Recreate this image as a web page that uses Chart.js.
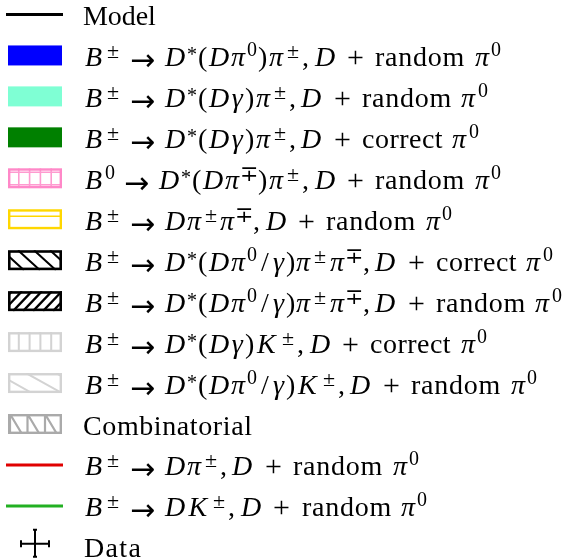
<!DOCTYPE html>
<html>
<head>
<meta charset="utf-8">
<script src="https://cdn.jsdelivr.net/npm/chart.js@4.4.0/dist/chart.umd.min.js"></script>
<style>
  html, body { margin: 0; padding: 0; background: #fff; }
  canvas { display: block; }
</style>
</head>
<body>
<canvas id="legenda" width="565" height="560"></canvas>
<script>
// Entradas da legenda ($...$ = modo matemático, ^{..} = expoente)
const legendLabels = [
    'Model',
    '$B^{±}→D^{*}(Dπ^{0})π^{±},D$ + random $π^{0}$',
    '$B^{±}→D^{*}(Dγ)π^{±},D$ + random $π^{0}$',
    '$B^{±}→D^{*}(Dγ)π^{±},D$ + correct $π^{0}$',
    '$B^{0}→D^{*}(Dπ^{∓})π^{±},D$ + random $π^{0}$',
    '$B^{±}→Dπ^{±}π^{∓},D$ + random $π^{0}$',
    '$B^{±}→D^{*}(Dπ^{0}/γ)π^{±}π^{∓},D$ + correct $π^{0}$',
    '$B^{±}→D^{*}(Dπ^{0}/γ)π^{±}π^{∓},D$ + random $π^{0}$',
    '$B^{±}→D^{*}(Dγ)K^{±},D$ + correct $π^{0}$',
    '$B^{±}→D^{*}(Dπ^{0}/γ)K^{±},D$ + random $π^{0}$',
    'Combinatorial',
    '$B^{±}→Dπ^{±},D$ + random $π^{0}$',
    '$B^{±}→DK^{±},D$ + random $π^{0}$',
    'Data'
];

// estilo de cada entrada (tipo de marca e cor)
const estilos = [
    { kind: 'line',    color: '#000000' },
    { kind: 'box',     color: '#0000ff' },
    { kind: 'box',     color: '#7fffd4' },
    { kind: 'box',     color: '#008000' },
    { kind: 'grid',    color: '#ff88c8' },
    { kind: 'hlines',  color: '#ffd700' },
    { kind: 'back',    color: '#000000' },
    { kind: 'fwd',     color: '#000000' },
    { kind: 'vlines',  color: '#d3d3d3' },
    { kind: 'shallow', color: '#d3d3d3' },
    { kind: 'comb',    color: '#aaaaaa' },
    { kind: 'line',    color: '#e00000' },
    { kind: 'line',    color: '#22b022' },
    { kind: 'data',    color: '#000000' }
];

const FONTE = '"Liberation Serif", "DejaVu Serif", serif';
const EM = 27;      // avanço (estilo Computer Modern)
const GLIFO = 28;   // tamanho do glifo desenhado
const GLIFO_SUP = 20;

// larguras aproximadas do Computer Modern (em)
const largRoman = {
    'M': .917, 'o': .5, 'd': .556, 'e': .444, 'l': .278, 'r': .392, 'a': .5, 'n': .556,
    'm': .833, 'c': .444, 't': .389, 'C': .722, 'b': .556, 'i': .278, 'D': .764,
    ' ': .333, '+': .778, '(': .389, ')': .389, '/': .5, ',': .278, '0': .5, '→': 1.0
};
const largItal = { 'B': .759, 'D': .828, 'K': .849, 'π': .573, 'γ': .518 };
const corrItal = { 'B': .05, 'D': .028, 'K': .072, 'π': .036, 'γ': .056 };
const largSup = { '0': .569, '±': .893, '∓': .893, '*': .569 };

function parseLabel(s) {
    const out = [];
    let math = false;
    let i = 0;
    const letra = ch => /[A-Za-zπγ]/.test(ch);
    while (i < s.length) {
        const c = s[i];
        if (c === '$') { math = !math; i++; continue; }
        if (!math) {
            if (c === ' ') out.push({ sp: largRoman[' '] });
            else out.push({ t: c, it: false, sup: false, sozinho: c === '+' });
            i++;
            continue;
        }
        if (c === '^') {
            let g;
            if (s[i + 1] === '{') {
                const j = s.indexOf('}', i);
                g = s.slice(i + 2, j);
                i = j + 1;
            } else {
                g = s[i + 1];
                i += 2;
            }
            const prev = out[out.length - 1];
            if (prev && prev.it) out.push({ sp: corrItal[prev.t] || 0.03 });
            for (const ch of g) out.push({ t: ch, it: false, sup: true, sozinho: true });
            continue;
        }
        if (c === '→') {
            out.push({ sp: 5 / 18 }, { t: c, it: false, seta: true, sozinho: true }, { sp: 5 / 18 });
        } else if (c === ',') {
            out.push({ t: ',', it: false }, { sp: 1 / 6 });
        } else {
            out.push({ t: c, it: letra(c), sozinho: !letra(c) });
        }
        i++;
    }
    return out;
}

function larguraCM(p) {
    if (p.sup) return (largSup[p.t] || .6) * 0.7;
    if (p.it) return largItal[p.t] || .6;
    return largRoman[p.t] !== undefined ? largRoman[p.t] : .5;
}

// agrupa caracteres do mesmo estilo em blocos
function blocos(partes) {
    const res = [];
    partes.forEach(p => {
        if (p.sp !== undefined) { res.push(p); return; }
        const ult = res[res.length - 1];
        if (ult && ult.t !== undefined && !ult.sozinho && !p.sozinho && ult.it === p.it && !ult.sup && !p.sup) {
            ult.t += p.t;
            ult.w += larguraCM(p);
        } else {
            res.push(Object.assign({}, p, { w: larguraCM(p) }));
        }
    });
    return res;
}

const temLetterSpacing = 'letterSpacing' in CanvasRenderingContext2D.prototype;

function desenharTexto(ctx, label, x, y) {
    let cx = x;
    blocos(parseLabel(label)).forEach(b => {
        if (b.sp !== undefined) { cx += b.sp * EM; return; }
        const alvo = b.w * EM;
        let dy = 0;
        if (b.seta) {
            ctx.font = '30px "DejaVu Sans"';
            dy = 4;
        } else if (b.t === '+') {
            ctx.font = '30px ' + FONTE;
            dy = 1;
        } else if (b.sup) {
            const grande = b.t === '±' || b.t === '∓';
            ctx.font = (grande ? 22 : GLIFO_SUP) + 'px ' + FONTE;
            dy = b.t === '*' ? -5 : (grande ? -8 : -10);
        } else {
            ctx.font = (b.it ? 'italic ' : '') + GLIFO + 'px ' + FONTE;
        }
        const chars = Array.from(b.t);
        if (temLetterSpacing) ctx.letterSpacing = '0px';
        const real = ctx.measureText(b.t).width;
        const extra = (alvo - real) / chars.length;
        if (temLetterSpacing && chars.length > 1) {
            // texto inteiro de uma vez, com espaçamento entre letras
            ctx.letterSpacing = extra.toFixed(2) + 'px';
            ctx.fillText(b.t, Math.round(cx + extra / 2), y + dy);
            ctx.letterSpacing = '0px';
        } else if (chars.length === 1) {
            ctx.fillText(b.t, Math.round(cx + extra / 2), y + dy);
        } else {
            let px = cx + extra / 2;
            chars.forEach(ch => {
                ctx.fillText(ch, px, y + dy);
                px += ctx.measureText(ch).width + extra;
            });
        }
        cx += alvo;
    });
    return cx;
}

function hachura(ctx, x, y, w, h, passo, dx) {
    // linhas inclinadas: dx = deslocamento horizontal ao descer h
    for (let k = -Math.abs(dx) - passo * 4; k < w + Math.abs(dx) + passo; k += passo) {
        ctx.moveTo(x + k, y);
        ctx.lineTo(x + k + dx, y + h);
    }
}

function desenharIcone(ctx, est, cy) {
    const x = 8, w = 54, h = 20, y = cy - h / 2;
    ctx.save();
    ctx.strokeStyle = est.color;
    ctx.fillStyle = est.color;
    if (est.kind === 'line') {
        ctx.lineWidth = 3;
        ctx.beginPath();
        ctx.moveTo(6, cy);
        ctx.lineTo(63, cy);
        ctx.stroke();
    } else if (est.kind === 'box') {
        ctx.fillRect(x, y, w, h);
    } else if (est.kind === 'data') {
        const c = cy - 3;
        ctx.lineWidth = 2;
        ctx.beginPath();
        ctx.moveTo(20, c); ctx.lineTo(50, c);
        ctx.moveTo(35, c - 15); ctx.lineTo(35, c + 14);
        ctx.moveTo(21, c - 3.5); ctx.lineTo(21, c + 3.5);
        ctx.moveTo(49, c - 3.5); ctx.lineTo(49, c + 3.5);
        ctx.moveTo(33, c - 14); ctx.lineTo(37, c - 14);
        ctx.moveTo(33, c + 13); ctx.lineTo(37, c + 13);
        ctx.stroke();
    } else {
        ctx.save();
        ctx.beginPath();
        ctx.rect(x, y, w, h);
        ctx.clip();
        ctx.beginPath();
        if (est.kind === 'grid') {
            ctx.lineWidth = 1.6;
            ctx.globalAlpha = 0.85;
            ctx.moveTo(x, y + 4); ctx.lineTo(x + w, y + 4);
            ctx.moveTo(x, y + h - 3.5); ctx.lineTo(x + w, y + h - 3.5);
            for (let k = 1; k < 5; k++) {
                ctx.moveTo(x + k * w / 5, y); ctx.lineTo(x + k * w / 5, y + h);
            }
        } else if (est.kind === 'hlines') {
            ctx.lineWidth = 1.6;
            ctx.moveTo(x, y + 7); ctx.lineTo(x + w, y + 7);
        } else if (est.kind === 'back') {
            ctx.lineWidth = 2;
            hachura(ctx, x, y, w, h, 16, 22);
        } else if (est.kind === 'fwd') {
            ctx.lineWidth = 2.3;
            hachura(ctx, x + 3, y, w, h, 10, -19);
        } else if (est.kind === 'vlines') {
            ctx.lineWidth = 2;
            for (let k = 1; k < 5; k++) {
                ctx.moveTo(x + k * w / 5, y); ctx.lineTo(x + k * w / 5, y + h);
            }
        } else if (est.kind === 'shallow') {
            ctx.lineWidth = 2;
            hachura(ctx, x - 6, y, w, h, 30, 36);
        } else if (est.kind === 'comb') {
            ctx.lineWidth = 2.2;
            for (let k = 0; k < 4; k++) {
                const vx = x + 2 + k * 17.5;
                ctx.moveTo(vx, y); ctx.lineTo(vx, y + h);
                ctx.moveTo(vx, y); ctx.lineTo(vx + 12, y + h);
            }
        }
        ctx.stroke();
        ctx.restore();
        ctx.lineWidth = est.kind === 'back' || est.kind === 'fwd' ? 2.6 : 2.4;
        ctx.strokeRect(x + ctx.lineWidth / 2, y + ctx.lineWidth / 2, w - ctx.lineWidth, h - ctx.lineWidth);
    }
    ctx.restore();
}

// Plugin que desenha a legenda com texto matemático
const legendaMatematica = {
    id: 'legendaMatematica',
    afterDraw(chart) {
        const ctx = chart.ctx;
        ctx.save();
        ctx.textBaseline = 'alphabetic';
        chart.data.datasets.forEach((ds, i) => {
            const cy = 14.5 + i * 40.95;
            desenharIcone(ctx, ds.estilo, cy);
            ctx.fillStyle = '#000';
            desenharTexto(ctx, ds.label, 83, Math.round(cy + 10.5));
        });
        ctx.restore();
    }
};

const datasets = legendLabels.map((label, i) => ({
    label: label,
    data: [],
    estilo: estilos[i],
    backgroundColor: estilos[i].color,
    borderColor: estilos[i].color
}));

new Chart(document.getElementById('legenda'), {
    type: 'bar',
    data: { labels: [], datasets: datasets },
    options: {
        responsive: false,
        animation: false,
        plugins: {
            legend: { display: false },
            tooltip: { enabled: false }
        },
        scales: {
            x: { display: false },
            y: { display: false }
        }
    },
    plugins: [legendaMatematica]
});
</script>
</body>
</html>
